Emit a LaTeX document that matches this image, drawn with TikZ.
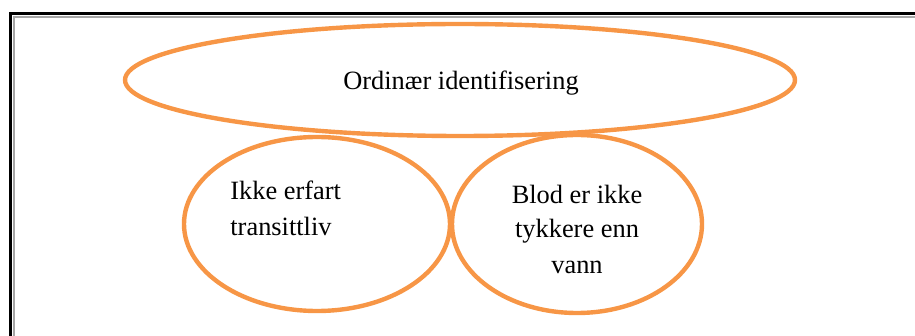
\documentclass[tikz,border=0pt]{standalone}
\usepackage{fontspec}
\setmainfont{Liberation Serif}
\usetikzlibrary{shapes.geometric}
\definecolor{accentorange}{HTML}{F79646}
\tikzset{
  bubble/.style={draw=accentorange, line width=2.2pt, ellipse, inner sep=0pt},
  bubbletext/.style={font=\fontsize{13.2}{17.5}\selectfont, inner sep=0pt},
}
\begin{document}
\begin{tikzpicture}[x=0.5pt, y=-0.5pt]
  \useasboundingbox (0,0) rectangle (915,336);
  \begin{scope}
    \clip (0,0) rectangle (915,336);
    % framing box, runs past the page on the right and bottom
    \draw[black!35, line width=1pt] (13.5,17) rectangle (940,360);
    \draw[black, line width=1.8pt] (10.5,13.5) rectangle (940,360);
  \end{scope}
  % the three bubbles
  \node[bubble, minimum width=335pt, minimum height=56pt] (top) at (460,80) {};
  \node[bubble, minimum width=133pt, minimum height=87pt] (left) at (317,224) {};
  \node[bubble, minimum width=125pt, minimum height=89pt] (right) at (577,224) {};
  % texts (base anchor sits on the last line)
  \node[bubbletext, anchor=base] (toptext) at (461,90) {Ordinær identifisering};
  \node[bubbletext, anchor=base west, align=left] (lefttext) at (230,235) {Ikke erfart\\transittliv};
  \node[bubbletext, anchor=base, align=center] (righttext) at (577,273) {Blod er ikke\\tykkere enn\\vann};
\end{tikzpicture}
\end{document}
